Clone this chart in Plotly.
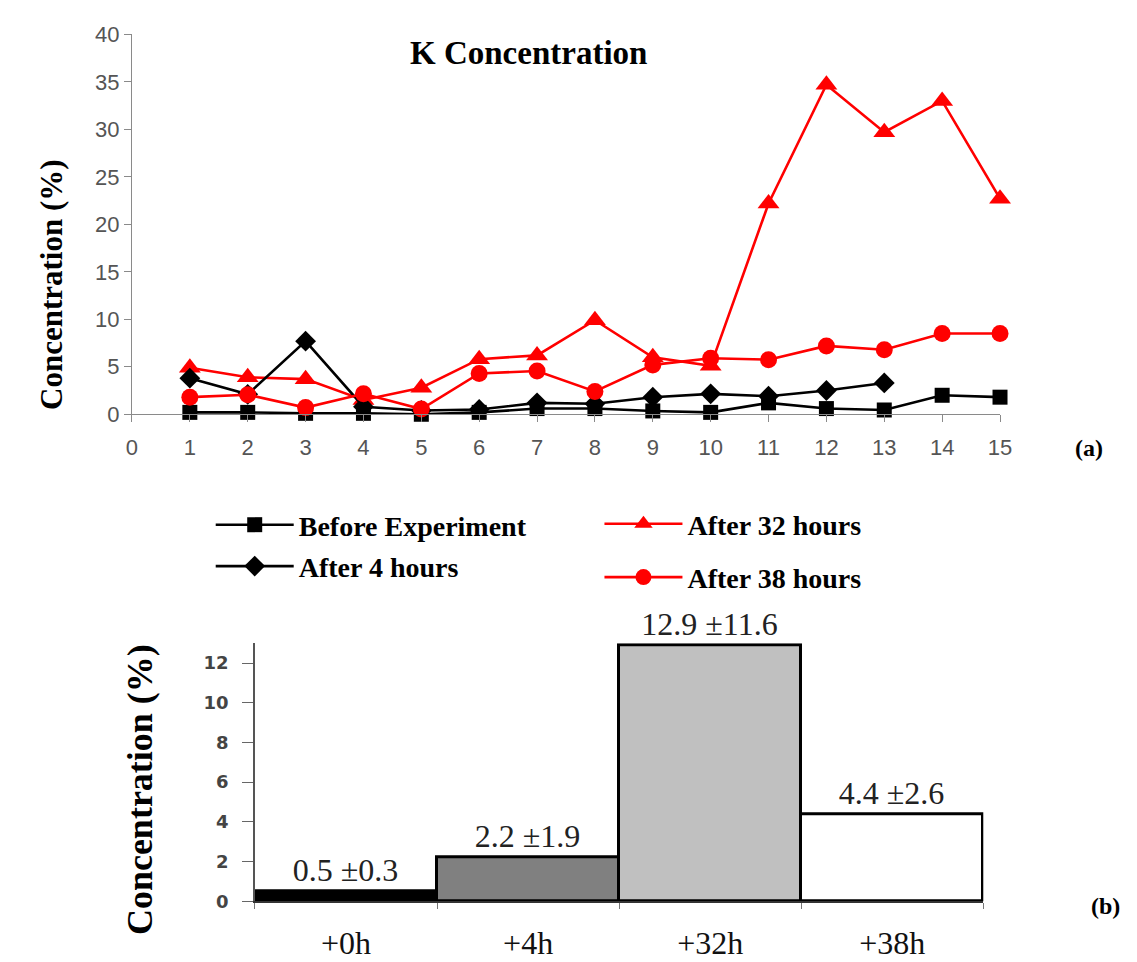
import plotly.graph_objects as go

W, H = 1137, 962

# Sampling points along the profile
points = list(range(1, 16))

# K concentration (%) at each point
before_exp = [0.2, 0.2, 0.1, 0.1, 0.0, 0.2, 0.6, 0.6, 0.35, 0.2, 1.2, 0.6, 0.45, 2.0, 1.8]
after_4h = [3.8, 2.1, 7.7, 0.8, 0.4, 0.5, 1.2, 1.1, 1.8, 2.15, 1.9, 2.5, 3.3]
after_32h = [4.9, 3.9, 3.7, 1.5, 2.8, 5.8, 6.2, 9.9, 6.0, 5.1, 22.2, 34.7, 29.7, 33.0, 22.7]
after_38h = [1.8, 2.05, 0.7, 2.15, 0.55, 4.3, 4.55, 2.4, 5.2, 5.9, 5.75, 7.2, 6.8, 8.5, 8.5]

# Mean concentration (%) and standard deviation per exposure time
bar_labels = ["+0h", "+4h", "+32h", "+38h"]
bar_means = [0.5, 2.2, 12.9, 4.4]
bar_sds = [0.3, 1.9, 11.6, 2.6]
bar_colors = ["#000000", "#808080", "#c0c0c0", "#ffffff"]


def px_x(p):
    return p / W


def px_y(p):
    return 1 - p / H


SERIF = "Liberation Serif"
SANS = "Liberation Sans"

fig = go.Figure()

series = [
    ("Before Experiment", points, before_exp, "black", "square", 15, "legend"),
    ("After 32 hours", points, after_32h, "#ff0000", "triangle-up", 19, "legend2"),
    ("After 4 hours", points[:len(after_4h)], after_4h, "black", "diamond", 16, "legend"),
    ("After 38 hours", points, after_38h, "#ff0000", "circle", 17, "legend2"),
]
for name, xs, ys, color, symbol, size, leg in series:
    fig.add_trace(go.Scatter(
        x=xs, y=ys, name=name, mode="lines+markers",
        line=dict(color=color, width=2.6),
        marker=dict(symbol=symbol, size=size, color=color),
        cliponaxis=False, legend=leg, legendgroup=name,
        xaxis="x", yaxis="y",
    ))

fig.add_trace(go.Bar(
    x=bar_labels, y=bar_means,
    marker=dict(color=bar_colors, line=dict(color="black", width=3)),
    text=[f"{m} ±{s}" for m, s in zip(bar_means, bar_sds)],
    textposition="outside", cliponaxis=False, constraintext="none",
    textfont=dict(family=SERIF, size=32, color="#222"),
    showlegend=False, xaxis="x2", yaxis="y2",
))

axis_gray = "#8a8a8a"


def label(text, x, y, size, angle=0):
    return dict(text=text, x=px_x(x), y=px_y(y), xref="paper", yref="paper",
                xanchor="center", yanchor="middle", showarrow=False,
                textangle=angle, font=dict(family=SERIF, size=size, color="black"))


fig.update_layout(
    width=W, height=H,
    margin=dict(l=0, r=0, t=0, b=0),
    paper_bgcolor="white", plot_bgcolor="white",
    bargap=0,
    xaxis=dict(
        domain=[px_x(128), px_x(1010)], range=[0, 15], anchor="y",
        tickmode="linear", tick0=0, dtick=1,
        showline=True, linecolor=axis_gray, linewidth=1.2,
        ticks="outside", ticklen=7, tickcolor=axis_gray,
        ticklabelstandoff=6,
        showgrid=False, zeroline=False,
        tickfont=dict(family=SANS, size=22, color="#555"),
    ),
    yaxis=dict(
        domain=[px_y(413), px_y(23)], range=[0, 40], anchor="x",
        tickmode="linear", tick0=0, dtick=5,
        showline=True, linecolor=axis_gray, linewidth=1.2,
        ticks="outside", ticklen=7, tickcolor=axis_gray,
        showgrid=False, zeroline=False,
        tickfont=dict(family=SANS, size=22, color="#555"),
    ),
    xaxis2=dict(
        domain=[px_x(253), px_x(993)], anchor="y2",
        type="category",
        showline=True, linecolor="#333", linewidth=1.5,
        ticks="outside", ticklen=6, tickcolor="#777", tickson="boundaries",
        ticklabelstandoff=13,
        showgrid=False, zeroline=False,
        tickfont=dict(family=SERIF, size=32, color="#111"),
    ),
    yaxis2=dict(
        domain=[px_y(913), px_y(648)], range=[0, 13], anchor="x2",
        tickmode="linear", tick0=0, dtick=2,
        showline=True, linecolor="#555", linewidth=1.5,
        ticks="outside", ticklen=11, tickcolor="#666",
        ticklabelstandoff=10,
        showgrid=False, zeroline=False,
        tickfont=dict(family="DejaVu Sans", size=18, color="#444", weight="bold"),
    ),
    legend=dict(
        x=px_x(208), y=px_y(501), xanchor="left", yanchor="top",
        font=dict(family=SERIF, size=28, color="black", weight="bold"),
        bgcolor="rgba(0,0,0,0)", itemwidth=78, tracegroupgap=2,
        traceorder="grouped",
    ),
    legend2=dict(
        x=px_x(603), y=px_y(500), xanchor="left", yanchor="top",
        font=dict(family=SERIF, size=28, color="black", weight="bold"),
        bgcolor="rgba(0,0,0,0)", itemwidth=78, tracegroupgap=14,
        traceorder="grouped",
    ),
    annotations=[
        label("<b>K Concentration</b>", 531, 42, 33),
        label("<b>Concentration (%)</b>", 46, 280, 31, -90),
        label("<b>(a)</b>", 1100, 448, 24),
        label("<b>Concentration (%)</b>", 136, 798, 36, -90),
        label("<b>(b)</b>", 1117, 918, 24),
    ],
)

fig.write_html("out.html")
